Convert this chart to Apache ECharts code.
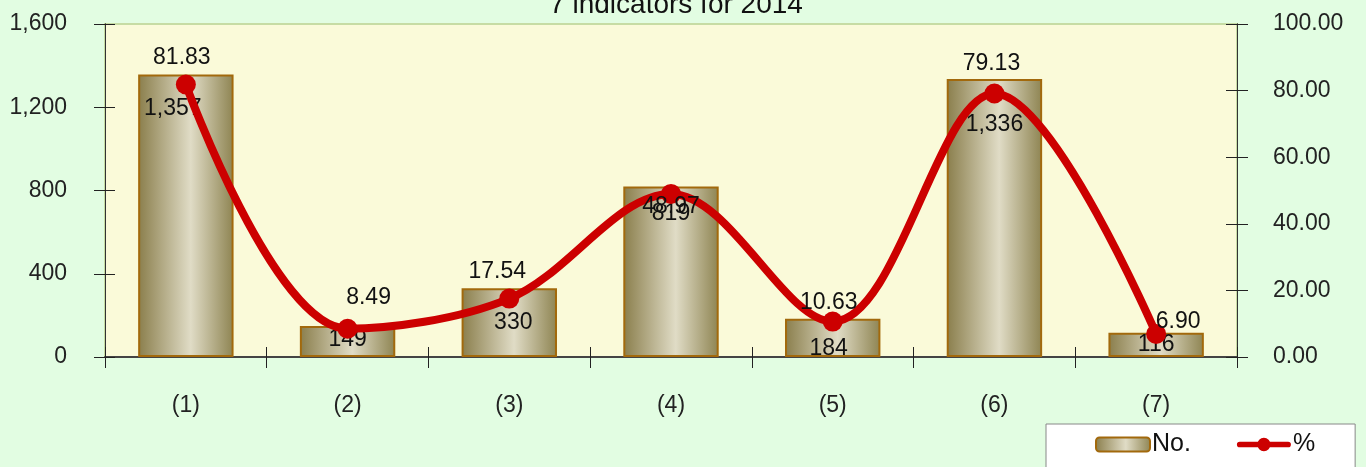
<!DOCTYPE html>
<html>
<head>
<meta charset="utf-8">
<script src="https://cdn.jsdelivr.net/npm/echarts@6/dist/echarts.min.js"></script>
<style>
  html, body { margin: 0; padding: 0; background: #e2fde2; }
  #chart { width: 1366px; height: 467px; }
</style>
</head>
<body>
<div id="chart"></div>
<script>
const categories = ['(1)', '(2)', '(3)', '(4)', '(5)', '(6)', '(7)'];
const counts = [1357, 149, 330, 819, 184, 1336, 116];
const percents = [81.83, 8.49, 17.54, 48.97, 10.63, 79.13, 6.90];

// label nudges (px) so the numbers sit where they do in the original
const countLabelShift = [[-13, 23], [0, 2], [4, 23], [0, 16], [-4, 18], [0, 34], [0, 0]];
const pctLabelShift = [[-4, -27], [21, -31], [-12, -27], [0, 13], [-4, -19], [-3, -30], [22, -12]];

const font = 'Liberation Sans';
const fs = 23;
const chart = echarts.init(document.getElementById('chart'));

const barFill = new echarts.graphic.LinearGradient(0, 0, 1, 0, [
  { offset: 0, color: '#8a7e4c' },
  { offset: 0.55, color: '#e0dcc6' },
  { offset: 1, color: '#8e8452' }
]);

// legend marker for the % series: thick line with a dot in the middle
const lineDotIcon = 'path://M2,4 L53,4 A3,3 0 0,1 53,10 L2,10 A3,3 0 0,1 2,4 Z ' +
  'M20.5,7 A7,7 0 1,1 34.5,7 A7,7 0 1,1 20.5,7 Z';

const yLeftBase = {
  type: 'value', min: 0, max: 1600, interval: 400, position: 'left',
  splitLine: { show: false },
  axisLine: { show: true, lineStyle: { color: '#333', width: 1 } }
};
const yRightBase = {
  type: 'value', min: 0, max: 100, interval: 20, position: 'right',
  splitLine: { show: false },
  axisLine: { show: true, lineStyle: { color: '#333', width: 1 } }
};

const option = {
  backgroundColor: '#e2fde2',
  title: {
    text: '7 indicators for 2014',
    left: 671, top: -14, textAlign: 'center',
    textStyle: { fontFamily: font, fontSize: 28, fontWeight: 'normal', color: '#111' }
  },
  legend: {
    left: 1046, top: 424,
    padding: [8, 40, 30, 49],
    itemGap: 46, itemWidth: 54, itemHeight: 14,
    backgroundColor: '#ffffff', borderColor: '#888', borderWidth: 1,
    textStyle: { fontFamily: font, fontSize: 25, color: '#111', padding: [0, 0, 0, -3] },
    data: [
      { name: 'No.' },
      { name: '%', icon: lineDotIcon, itemStyle: { color: '#cc0000', borderWidth: 0 } }
    ]
  },
  grid: {
    left: 105, right: 129, top: 24, bottom: 110,
    show: true, backgroundColor: '#fafad9', borderColor: '#c6dca4', borderWidth: 2
  },
  xAxis: [
    {
      type: 'category', data: categories,
      axisLine: { lineStyle: { color: '#444', width: 2 } },
      axisTick: { show: true, length: 11, lineStyle: { color: '#222' } },
      axisLabel: { margin: 37, fontFamily: font, fontSize: fs, color: '#222' }
    },
    {
      type: 'category', data: categories, position: 'bottom',
      axisLine: { show: false },
      axisTick: { show: true, inside: true, length: 10, lineStyle: { color: '#222' } },
      axisLabel: { show: false }
    }
  ],
  yAxis: [
    Object.assign({}, yLeftBase, {
      axisTick: { show: true, length: 11, lineStyle: { color: '#222' } },
      axisLabel: {
        margin: 38, fontFamily: font, fontSize: fs, color: '#222',
        formatter: v => v.toLocaleString('en-US')
      }
    }),
    Object.assign({}, yRightBase, {
      axisTick: { show: true, length: 11, lineStyle: { color: '#222' } },
      axisLabel: {
        margin: 36, fontFamily: font, fontSize: fs, color: '#222',
        formatter: v => v.toFixed(2)
      }
    }),
    Object.assign({}, yLeftBase, {
      axisTick: { show: true, inside: true, length: 10, lineStyle: { color: '#222' } },
      axisLabel: { show: false }
    }),
    Object.assign({}, yRightBase, {
      axisTick: { show: true, inside: true, length: 11, lineStyle: { color: '#222' } },
      axisLabel: { show: false }
    })
  ],
  series: [
    {
      name: 'No.', type: 'bar', xAxisIndex: 0, yAxisIndex: 0,
      barWidth: '59%',
      itemStyle: { color: barFill, borderColor: '#a2690c', borderWidth: 2 },
      label: { show: false },
      data: counts.map((v, i) => ({
        value: v,
        label: {
          show: true, position: 'insideTop', distance: 0,
          offset: countLabelShift[i],
          fontFamily: font, fontSize: fs, color: '#111',
          formatter: p => p.value.toLocaleString('en-US')
        }
      })),
      z: 2
    },
    {
      name: '%', type: 'line', xAxisIndex: 0, yAxisIndex: 1,
      smooth: 0.35,
      symbol: 'circle', symbolSize: 20,
      lineStyle: { color: '#cc0000', width: 8 },
      itemStyle: { color: '#cc0000' },
      data: percents.map((v, i) => ({
        value: v,
        label: {
          show: true, position: 'inside',
          offset: pctLabelShift[i],
          fontFamily: font, fontSize: fs, color: '#111',
          formatter: p => p.value.toFixed(2)
        }
      })),
      z: 5
    }
  ]
};

chart.setOption(option);
</script>
</body>
</html>
